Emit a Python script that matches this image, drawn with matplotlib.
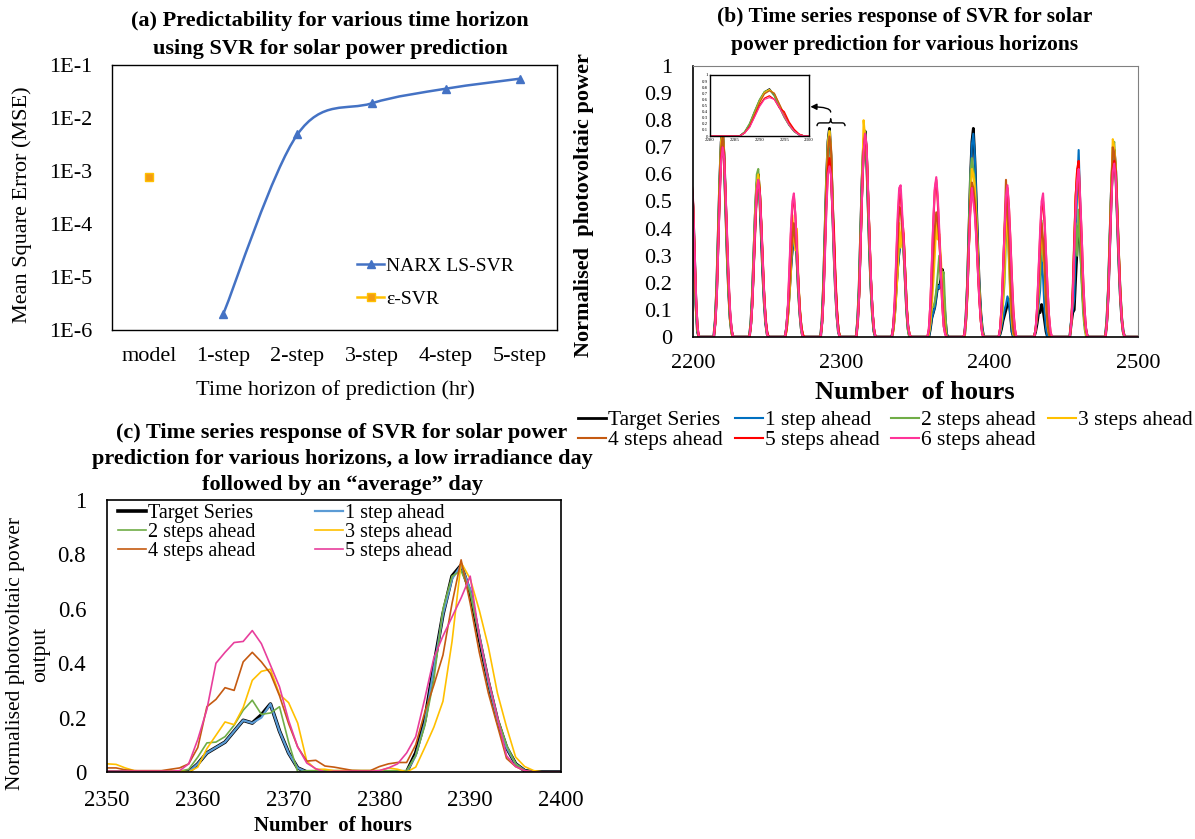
import numpy as np
import matplotlib
matplotlib.use('Agg')
import matplotlib.pyplot as plt
from matplotlib.path import Path
from matplotlib.patches import PathPatch
from matplotlib.lines import Line2D
from matplotlib.ticker import FixedLocator, NullLocator, FuncFormatter

plt.rcParams['font.family'] = ['Liberation Serif', 'DejaVu Serif']

# ---------------- (a) MSE per horizon ----------------
horizons = ['model', '1-step', '2-step', '3-step', '4-step', '5-step']
narx_mse = [2.0e-6, 4.9e-3, 1.89e-2, 3.57e-2, 5.52e-2]   # 1-step .. 5-step
eps_svr_mse = [7.8e-4]                                  # model

# ---------------- (b) hourly series, one 14-hour block per day (values in %) ----------------
day_start = [2190, 2214, 2238, 2262, 2286, 2310, 2334, 2358, 2382, 2406, 2430, 2454, 2478]

b_target = [
    [0, 5, 16, 34, 52, 66, 72, 70, 62, 55, 48, 30, 12, 2],
    [0, 6, 18, 38, 57, 72, 76, 66, 48, 31, 17, 7, 2, 0],
    [0, 5, 15, 30, 45, 56, 60, 52, 38, 24, 13, 5, 1, 0],
    [0, 3, 9, 17, 26, 33, 37, 39, 30, 18, 9, 3, 0, 0],
    [0, 6, 19, 39, 58, 72, 77, 67, 49, 32, 18, 8, 2, 0],
    [0, 6, 18, 38, 58, 71, 76, 67, 49, 32, 18, 8, 2, 0],
    [0, 3, 9, 18, 26, 32, 36, 38, 34, 22, 10, 3, 0, 0],
    [0, 0, 3, 7, 9, 11, 15, 19, 18, 21, 25, 15, 7, 1],
    [0, 0, 7, 19, 39, 58, 72, 77, 66, 49, 33, 19, 9, 3],
    [0, 1, 3, 6, 8, 10, 12, 14, 8, 2, 0, 0, 0, 0],
    [0, 2, 5, 9, 9, 12, 10, 6, 2, 0, 0, 0, 0, 0],
    [0, 5, 9, 10, 22, 33, 41, 36, 25, 14, 6, 2, 0, 0],
    [0, 6, 17, 35, 53, 65, 69, 61, 45, 29, 16, 7, 2, 0],
]
b_step1 = [
    [0, 5, 15, 33, 51, 65, 71, 70, 63, 56, 48, 29, 11, 2],
    [0, 6, 17, 37, 56, 71, 74, 67, 49, 32, 17, 7, 2, 0],
    [0, 5, 14, 29, 44, 55, 59, 53, 39, 25, 13, 5, 1, 0],
    [0, 3, 8, 16, 25, 32, 36, 40, 31, 19, 9, 3, 0, 0],
    [0, 6, 18, 38, 57, 71, 76, 68, 50, 33, 18, 8, 2, 0],
    [0, 6, 17, 37, 57, 70, 75, 68, 50, 33, 18, 8, 2, 0],
    [0, 3, 8, 17, 25, 31, 35, 37, 35, 23, 11, 3, 0, 0],
    [0, 0, 3, 7, 9, 11, 15, 19, 18, 20, 24, 15, 7, 1],
    [0, 0, 6, 18, 38, 58, 71, 75, 67, 50, 33, 19, 9, 3],
    [0, 1, 4, 7, 10, 12, 15, 13, 8, 2, 0, 0, 0, 0],
    [0, 3, 7, 12, 17, 30, 22, 10, 3, 0, 0, 0, 0, 0],
    [0, 7, 10, 14, 35, 55, 69, 50, 30, 14, 5, 1, 0, 0],
    [0, 6, 18, 36, 54, 66, 68, 61, 45, 29, 16, 7, 2, 0],
]
b_step2 = [
    [0, 5, 16, 35, 53, 67, 72, 70, 63, 55, 47, 28, 10, 2],
    [0, 7, 20, 40, 59, 73, 74, 64, 47, 30, 16, 6, 1, 0],
    [0, 6, 17, 33, 49, 60, 62, 50, 42, 25, 13, 5, 1, 0],
    [0, 4, 11, 20, 29, 35, 38, 40, 28, 17, 8, 2, 0, 0],
    [0, 7, 21, 41, 60, 73, 76, 65, 47, 30, 17, 7, 2, 0],
    [0, 7, 20, 41, 60, 72, 76, 65, 47, 30, 17, 7, 2, 0],
    [0, 4, 10, 19, 27, 33, 38, 36, 31, 20, 9, 2, 0, 0],
    [0, 1, 5, 11, 11, 13, 17, 23, 30, 21, 22, 24, 11, 0],
    [0, 0, 8, 21, 41, 60, 66, 62, 58, 46, 31, 18, 8, 2],
    [0, 2, 6, 12, 20, 36, 40, 28, 14, 5, 1, 0, 0, 0],
    [0, 3, 8, 14, 22, 43, 28, 36, 20, 8, 2, 0, 0, 0],
    [0, 6, 14, 28, 42, 30, 47, 35, 20, 9, 3, 0, 0, 0],
    [0, 7, 19, 38, 56, 70, 72, 60, 44, 28, 15, 6, 1, 0],
]
b_step3 = [
    [0, 4, 14, 32, 50, 64, 71, 71, 64, 57, 49, 31, 13, 3],
    [0, 5, 16, 36, 56, 72, 76, 68, 50, 33, 18, 8, 2, 0],
    [0, 4, 13, 28, 44, 56, 60, 55, 41, 27, 15, 6, 1, 0],
    [0, 2, 7, 15, 24, 45, 36, 32, 40, 22, 11, 4, 1, 0],
    [0, 5, 16, 36, 56, 71, 76, 70, 52, 35, 20, 9, 3, 0],
    [0, 5, 16, 35, 55, 80, 74, 70, 53, 35, 20, 9, 3, 0],
    [0, 2, 7, 15, 24, 42, 33, 40, 38, 25, 13, 4, 1, 0],
    [0, 1, 5, 12, 20, 30, 42, 36, 38, 30, 20, 9, 3, 0],
    [0, 0, 5, 15, 32, 50, 62, 60, 55, 44, 30, 17, 7, 2],
    [0, 2, 6, 14, 25, 47, 40, 30, 15, 6, 1, 0, 0, 0],
    [0, 3, 9, 18, 30, 38, 33, 25, 12, 4, 1, 0, 0, 0],
    [0, 5, 16, 34, 52, 62, 58, 45, 30, 16, 6, 1, 0, 0],
    [0, 5, 16, 36, 55, 73, 70, 63, 48, 32, 18, 8, 2, 0],
]
b_step4 = [
    [0, 4, 14, 31, 49, 63, 70, 71, 65, 58, 50, 32, 14, 3],
    [0, 5, 16, 35, 55, 70, 74, 68, 51, 34, 19, 8, 2, 0],
    [0, 4, 12, 27, 42, 54, 58, 55, 42, 28, 15, 6, 1, 0],
    [0, 3, 9, 18, 28, 36, 42, 35, 32, 20, 10, 4, 1, 0],
    [0, 5, 16, 35, 54, 69, 74, 70, 53, 36, 21, 10, 3, 0],
    [0, 5, 15, 34, 53, 68, 75, 70, 54, 37, 21, 10, 3, 0],
    [0, 3, 10, 22, 34, 48, 47, 40, 33, 22, 11, 4, 1, 0],
    [0, 2, 8, 18, 30, 40, 46, 42, 36, 27, 16, 7, 2, 0],
    [0, 1, 6, 16, 33, 50, 57, 55, 50, 40, 27, 15, 6, 1],
    [0, 3, 10, 22, 40, 58, 45, 36, 20, 8, 2, 0, 0, 0],
    [0, 3, 9, 20, 32, 42, 36, 27, 13, 5, 1, 0, 0, 0],
    [0, 6, 18, 36, 52, 60, 57, 46, 31, 17, 7, 2, 0, 0],
    [0, 5, 17, 36, 54, 70, 68, 62, 47, 31, 17, 7, 2, 0],
]
b_step5 = [
    [0, 4, 13, 30, 47, 60, 67, 68, 64, 58, 50, 33, 15, 4],
    [0, 5, 15, 33, 52, 66, 70, 66, 52, 36, 21, 9, 3, 0],
    [0, 4, 12, 26, 41, 53, 57, 54, 43, 29, 16, 7, 2, 0],
    [0, 3, 11, 24, 38, 48, 52, 45, 34, 21, 10, 4, 1, 0],
    [0, 5, 15, 32, 50, 62, 66, 60, 46, 40, 23, 11, 3, 0],
    [0, 5, 15, 34, 53, 68, 74, 70, 54, 37, 21, 10, 3, 0],
    [0, 4, 13, 28, 42, 52, 53, 44, 38, 25, 12, 4, 1, 0],
    [0, 3, 12, 26, 42, 54, 58, 50, 38, 24, 12, 4, 1, 0],
    [0, 1, 7, 18, 34, 48, 55, 51, 47, 37, 25, 14, 6, 1],
    [0, 3, 11, 25, 39, 50, 55, 48, 36, 22, 10, 3, 0, 0],
    [0, 3, 11, 24, 37, 48, 50, 42, 30, 18, 8, 2, 0, 0],
    [0, 5, 16, 34, 52, 62, 65, 50, 38, 22, 10, 3, 0, 0],
    [0, 5, 15, 33, 50, 62, 65, 60, 46, 31, 17, 7, 2, 0],
]
b_step6 = [
    [0, 4, 13, 29, 46, 59, 66, 68, 64, 58, 51, 34, 16, 4],
    [0, 5, 14, 32, 51, 65, 70, 66, 53, 37, 22, 10, 3, 0],
    [0, 4, 12, 27, 42, 54, 58, 53, 42, 28, 15, 6, 1, 0],
    [0, 4, 12, 26, 40, 50, 53, 45, 33, 20, 9, 3, 0, 0],
    [0, 5, 14, 31, 48, 60, 63, 60, 47, 32, 18, 8, 2, 0],
    [0, 5, 15, 34, 53, 68, 75, 71, 55, 37, 21, 10, 3, 0],
    [0, 4, 14, 30, 45, 55, 56, 46, 36, 23, 11, 4, 1, 0],
    [0, 3, 12, 27, 43, 55, 59, 52, 40, 25, 12, 4, 1, 0],
    [0, 1, 7, 17, 33, 47, 55, 50, 45, 36, 25, 14, 6, 1],
    [0, 3, 11, 25, 40, 52, 56, 48, 35, 21, 9, 3, 0, 0],
    [0, 3, 11, 25, 39, 50, 53, 44, 31, 18, 8, 2, 0, 0],
    [0, 5, 15, 32, 48, 58, 62, 52, 38, 22, 10, 3, 0, 0],
    [0, 5, 15, 32, 49, 61, 64, 59, 45, 30, 16, 7, 2, 0],
]
b_labels = ['Target Series', '1 step ahead', '2 steps ahead', '3 steps ahead',
            '4 steps ahead', '5 steps ahead', '6 steps ahead']

# ---------------- (c) hours 2350..2400 (values in %) ----------------
c_target = [0, 0, 0, 0, 0, 0, 0, 0, 0,
            0, 3, 7, 9, 11, 15, 19, 18, 21, 25, 15, 7, 1.5,
            0, 0, 0, 0, 0, 0, 0, 0, 0, 0, 0, 0,
            7, 19, 39, 58, 72, 76, 66, 49, 33, 19, 9, 3, 0.5,
            0, 0, 0, 0]
c_step1 = [0, 0, 0, 0, 0, 0, 0, 0, 0,
           0, 3, 7, 9, 11, 15, 19, 18, 20, 25, 15, 7, 1.5,
           0, 0, 0, 0, 0, 0, 0, 0, 0, 0, 0, 0,
           6, 18, 38, 58, 71, 76, 67, 50, 33, 19, 9, 3, 0.5,
           0, 0, 0, 0]
c_step2 = [0.3, 0.3, 0.3, 0.3, 0.3, 0.3, 0.3, 0.3, 0.3,
           1, 5.5, 10.7, 11, 13, 17.2, 22.7, 26.4, 21.2, 21.7, 24, 11, 0,
           0.5, 0.5, 0.5, 0.5, 0.5, 0.5, 0.5, 0.5, 0.5, 0.5, 0.5, 0.5,
           6, 17, 34, 60, 72, 74, 66, 50, 34, 20, 10, 3, 0.5,
           0, 0, 0, 0]
c_step3 = [3, 2.8, 1.5, 0.5, 0.3, 0.3, 0.3, 0.3, 0.3,
           0, 1.8, 8.6, 13.5, 18.4, 17.4, 23.7, 33.7, 37, 37.8, 28.5, 25.5, 18,
           4, 1, 1, 0.5, 0.5, 0.5, 0.5, 0.5, 0.5, 1.5, 1, 0,
           1.8, 9, 16.5, 26, 48, 77, 71, 59.5, 46, 29, 16.6, 5.5, 2,
           0.5, 0, 0, 0]
c_step4 = [1.5, 1.5, 0.8, 0.5, 0.5, 0.5, 0.5, 1, 1.5,
           3, 9, 24, 26.7, 31, 30, 40.5, 44, 40.5, 36.2, 28, 17.8, 9.2,
           4, 4.3, 2.2, 1.8, 1.2, 0.6, 0.5, 0.5, 2, 3, 3.5, 3.5,
           10, 22, 32, 43, 62, 78, 62, 44, 29, 17, 5, 2, 0.5,
           0, 0, 0, 0]
c_step5 = [0.3, 0.3, 0.3, 0.3, 0.3, 0.3, 0.3, 0.3, 0.5,
           3, 12, 23, 40, 44, 47.6, 48, 52, 47.2, 39.3, 31.3, 19, 9.2,
           3.3, 1.2, 0, 0.3, 0.3, 0.3, 0.3, 0.3, 0.5, 1.5, 3, 7,
           13, 27, 42, 50, 57, 64, 72, 50, 34, 20, 6, 2, 0.5,
           0, 0, 0, 0]
c_labels = ['Target Series', '1 step ahead', '2 steps ahead', '3 steps ahead',
            '4 steps ahead', '5 steps ahead']

# ---------------- figure ----------------
W, H = 1195, 839
fig = plt.figure(figsize=(W / 100, H / 100), dpi=100)


def axes_px(left, top, right, bottom):
    return fig.add_axes([left / W, 1 - bottom / H, (right - left) / W, (bottom - top) / H])


def text_px(x, y, s, **kw):
    fig.text(x / W, 1 - y / H, s, ha='center', va='center', **kw)


TITLE = dict(fontsize=16, fontweight='bold')
TICK = 16

# ---------- panel (a) ----------
axa = axes_px(112, 65, 557, 330)
axa.set_yscale('log')
axa.set_ylim(1e-6, 1e-1)
axa.set_xlim(-0.5, len(horizons) - 0.5)
axa.set_xticks(range(len(horizons)))
axa.set_xticklabels(horizons)
axa.yaxis.set_major_locator(FixedLocator([1e-6, 1e-5, 1e-4, 1e-3, 1e-2, 1e-1]))
axa.yaxis.set_minor_locator(NullLocator())
axa.set_yticklabels(['1E-6', '1E-5', '1E-4', '1E-3', '1E-2', '1E-1'])
axa.tick_params(axis='both', length=0, labelsize=TICK)
axa.tick_params(axis='y', pad=14)
axa.tick_params(axis='x', pad=12)
for s in axa.spines.values():
    s.set_linewidth(1.0)

# smoothed line through the NARX points (Excel-style smoothing, in log space)
xs = np.arange(1, len(narx_mse) + 1, dtype=float)
pts = np.column_stack([xs, np.log10(narx_mse)])
verts = [pts[0]]
codes = [Path.MOVETO]
n = len(pts)
for i in range(n - 1):
    p0 = pts[i - 1] if i > 0 else pts[i]
    p1, p2 = pts[i], pts[i + 1]
    p3 = pts[i + 2] if i + 2 < n else pts[i + 1]
    verts += [p1 + (p2 - p0) / 6, p2 - (p3 - p1) / 6, p2]
    codes += [Path.CURVE4] * 3
verts = np.array(verts)
verts[:, 1] = 10 ** verts[:, 1]
axa.add_patch(PathPatch(Path(verts, codes), fill=False, edgecolor='#4472C4', lw=1.8,
                        transform=axa.transData))
axa.plot(xs, narx_mse, ls='none', marker='^', ms=6, color='#4472C4')
axa.plot([0], eps_svr_mse, ls='none', marker='s', ms=6, mfc='#F39C12', mec='#FFC000')

h_narx = Line2D([], [], color='#4472C4', lw=1.8, marker='^', ms=6)
h_eps = Line2D([], [], color='#FFC000', lw=1.8, marker='s', ms=6, mfc='#F39C12', mec='#FFC000')
axa.legend([h_narx, h_eps], ['NARX LS-SVR', 'ε-SVR'], loc='upper left',
           bbox_to_anchor=(0.529, 0.311), frameon=False, fontsize=14,
           handlelength=1.4, handletextpad=0.1, labelspacing=0.8, borderpad=0)

text_px(330, 21, '(a) Predictability for various time horizon', **TITLE)
text_px(330, 49, 'using SVR for solar power prediction', **TITLE)
text_px(22, 205, 'Mean Square Error (MSE)', rotation=90, fontsize=16)
text_px(335, 390, 'Time horizon of prediction (hr)', fontsize=16)

# ---------- panel (b) ----------
b_series = [b_target, b_step1, b_step2, b_step3, b_step4, b_step5, b_step6]
b_colors = ['#000000', '#0070C0', '#70AD47', '#FFC000', '#C55A11', '#FF0000', '#FF3399']
b_widths = [2.0, 1.5, 1.5, 1.5, 1.5, 1.5, 1.5]

b_hours = np.arange(day_start[0], 2502)


def assemble(blocks):
    vals = np.zeros(len(b_hours))
    for s, blk in zip(day_start, blocks):
        i = s - day_start[0]
        vals[i:i + len(blk)] = np.array(blk) / 100.0
    return vals


axb = axes_px(693, 66, 1138, 337)
b_lines = []
for blocks, col, lw, lab in zip(b_series, b_colors, b_widths, b_labels):
    ln, = axb.plot(b_hours, assemble(blocks), color=col, lw=lw, label=lab)
    b_lines.append(ln)
axb.set_xlim(2200, 2500)
axb.set_ylim(0, 1)
axb.set_xticks([2200, 2300, 2400, 2500])
axb.set_yticks(np.arange(0, 11) / 10)
axb.yaxis.set_major_formatter(FuncFormatter(lambda v, p: '{:g}'.format(round(v, 1))))
axb.tick_params(axis='both', length=0, labelsize=16)
axb.tick_params(axis='y', pad=15)
axb.tick_params(axis='x', pad=12)
for k in ['top', 'right']:
    axb.spines[k].set_color('#808080')
axb.spines['left'].set_linewidth(1.2)
axb.spines['bottom'].set_linewidth(1.2)

# inset zoom of one day
axi = axes_px(710, 75, 809, 136)
for blocks, col, lw in zip(b_series, b_colors, b_widths):
    axi.plot(b_hours, assemble(blocks), color=col, lw=lw * 0.6)
axi.set_xlim(2280, 2300)
axi.set_ylim(0, 1)
axi.set_xticks([2280, 2285, 2290, 2295, 2300])
axi.set_yticks(np.arange(0, 11) / 10)
axi.yaxis.set_major_formatter(FuncFormatter(lambda v, p: '{:g}'.format(round(v, 1))))
axi.tick_params(axis='both', length=0, labelsize=3.5, pad=1.5)
for s in axi.spines.values():
    s.set_linewidth(1.0)

# brace over the zoomed day and the arrow to the inset
bv = [(2283.6, 0.778), (2283.6, 0.79), (2285.5, 0.79), (2291.3, 0.79),
      (2292.8, 0.79), (2292.8, 0.806), (2292.8, 0.79), (2294.3, 0.79),
      (2300.6, 0.79), (2302.5, 0.79), (2302.5, 0.778)]
bc = [Path.MOVETO, Path.CURVE3, Path.CURVE3, Path.LINETO, Path.CURVE3, Path.CURVE3,
      Path.CURVE3, Path.CURVE3, Path.LINETO, Path.CURVE3, Path.CURVE3]
axb.add_patch(PathPatch(Path(bv, bc), fill=False, lw=1.0, edgecolor='black'))
axb.annotate('', xy=(1.0, 0.48), xycoords=axi, xytext=(2292.8, 0.83), textcoords='data',
             arrowprops=dict(arrowstyle='-|>', color='black', lw=1.0, mutation_scale=9,
                             shrinkA=0, shrinkB=1,
                             connectionstyle='angle3,angleA=90,angleB=0'))

order = [0, 4, 1, 5, 2, 6, 3]
fig.legend([b_lines[i] for i in order], [b_labels[i] for i in order],
           loc='upper left', bbox_to_anchor=(578 / W, 1 - 410 / H), ncol=4,
           frameon=False, fontsize=15.5, handlelength=1.3, handletextpad=0.1,
           columnspacing=0.54, labelspacing=0.0, borderpad=0, borderaxespad=0)

text_px(905, 17, '(b) Time series response of SVR for solar', fontsize=15.5, fontweight='bold')
text_px(905, 45, 'power prediction for various horizons', fontsize=15.5, fontweight='bold')
text_px(584, 205, 'Normalised  photovoltaic power', rotation=90, fontsize=16, fontweight='bold')
text_px(915, 392, 'Number  of hours', fontsize=19, fontweight='bold')

# ---------- panel (c) ----------
c_hours = np.arange(2350, 2401)
c_series = [c_target, c_step1, c_step2, c_step3, c_step4, c_step5]
c_colors = ['#000000', '#5B9BD5', '#70AD47', '#FFC000', '#C55A11', '#E83E9C']
c_widths = [2.6, 1.6, 1.2, 1.2, 1.2, 1.2]

axc = axes_px(107, 500, 561, 772)
c_lines = []
for vals, col, lw, lab in zip(c_series, c_colors, c_widths, c_labels):
    ln, = axc.plot(c_hours, np.array(vals) / 100.0, color=col, lw=lw, label=lab)
    c_lines.append(ln)
axc.set_xlim(2350, 2400)
axc.set_ylim(0, 1)
axc.set_xticks([2350, 2360, 2370, 2380, 2390, 2400])
axc.set_yticks([0, 0.2, 0.4, 0.6, 0.8, 1.0])
axc.yaxis.set_major_formatter(FuncFormatter(lambda v, p: '{:g}'.format(round(v, 1))))
axc.tick_params(axis='both', length=0, labelsize=16.5)
axc.tick_params(axis='y', pad=15)
axc.tick_params(axis='x', pad=13)
for s in axc.spines.values():
    s.set_linewidth(1.2)

c_order = [0, 2, 4, 1, 3, 5]
axc.legend([c_lines[i] for i in c_order], [c_labels[i] for i in c_order],
           loc='upper left', bbox_to_anchor=(0.003, 1.022), ncol=2, frameon=False,
           fontsize=14.5, handlelength=1.35, handletextpad=0.1, columnspacing=3.0,
           labelspacing=0.0, borderpad=0)

text_px(342, 433, '(c) Time series response of SVR for solar power', **TITLE)
text_px(342, 459, 'prediction for various horizons, a low irradiance day', **TITLE)
text_px(342, 485, 'followed by an \u201caverage\u201d day', **TITLE)
text_px(16, 654, 'Normalised photovoltaic power', rotation=90, fontsize=15.5)
text_px(41, 654, 'output', rotation=90, fontsize=15.5)
text_px(333, 826, 'Number  of hours', fontsize=15, fontweight='bold')

fig.savefig('out.png', dpi=100)
